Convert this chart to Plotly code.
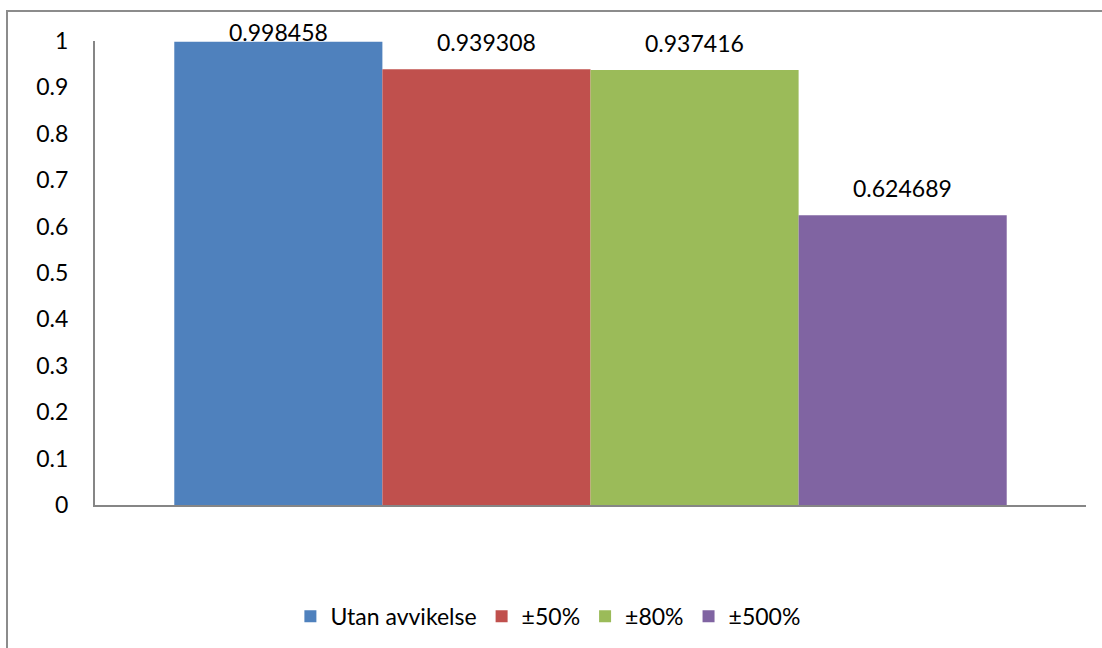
import plotly.graph_objects as go

# Series names and values
series_names = ["Utan avvikelse", "±50%", "±80%", "±500%"]
series_values = [0.998458, 0.939308, 0.937416, 0.624689]
series_colors = ["#4F81BD", "#C0504D", "#9BBB59", "#8064A2"]
category = [""]

y_ticks = [0, 0.1, 0.2, 0.3, 0.4, 0.5, 0.6, 0.7, 0.8, 0.9, 1]
y_tick_text = ["0", "0.1", "0.2", "0.3", "0.4", "0.5", "0.6", "0.7", "0.8", "0.9", "1"]

FONT = "Lato, Carlito, Calibri, sans-serif"
W, H = 1102, 648
ML, MR, MT, MB = 95, 16, 41, 142
BARGAP = 0.16
plot_w = W - ML - MR
plot_h = H - MT - MB

fig = go.Figure()
for name, val, col in zip(series_names, series_values, series_colors):
    fig.add_trace(go.Bar(
        x=category, y=[val], name=name,
        marker=dict(color=col, line=dict(width=0)),
    ))

# Value labels above each bar, kept inside the chart frame near the top
n = len(series_values)
bar_w = (1 - BARGAP) * plot_w / n
for i, val in enumerate(series_values):
    bar_top_px = MT + (1 - val) * plot_h
    shift = min(27, bar_top_px - 32)
    fig.add_annotation(
        x=0, xref="x", y=val, yref="y",
        xshift=(i - (n - 1) / 2) * bar_w, yshift=shift, showarrow=False,
        text=f"{val:g}", font=dict(family=FONT, size=23, color="black"),
        yanchor="middle",
    )

fig.update_layout(
    width=W, height=H,
    margin=dict(l=ML, r=MR, t=MT, b=MB),
    paper_bgcolor="white", plot_bgcolor="white",
    barmode="group", bargap=BARGAP, bargroupgap=0,
    font=dict(family=FONT, size=23, color="black"),
    showlegend=True,
    legend=dict(orientation="h", x=0.457, xanchor="center", y=-0.237, yanchor="middle",
                font=dict(family=FONT, size=23, color="black"),
                itemwidth=30, traceorder="normal"),
)
fig.update_xaxes(range=[-0.5, 0.5], showticklabels=False, showgrid=False, showline=True,
                 linecolor="#868686", linewidth=2, zeroline=False, ticks="")
fig.update_yaxes(range=[0, 1], tickvals=y_ticks, ticktext=y_tick_text,
                 showgrid=False, zeroline=False, showline=True,
                 linecolor="#868686", linewidth=2, ticks="",
                 ticklabelstandoff=20,
                 tickfont=dict(family=FONT, size=23, color="black"))

# Outer chart frame
fig.add_shape(type="rect", xref="paper", yref="paper",
              x0=(7 - ML) / plot_w, x1=1.2, y0=-0.6, y1=(H - MB - 11) / plot_h,
              line=dict(color="#8c8c8c", width=2), layer="below")

fig.write_html("out.html")
